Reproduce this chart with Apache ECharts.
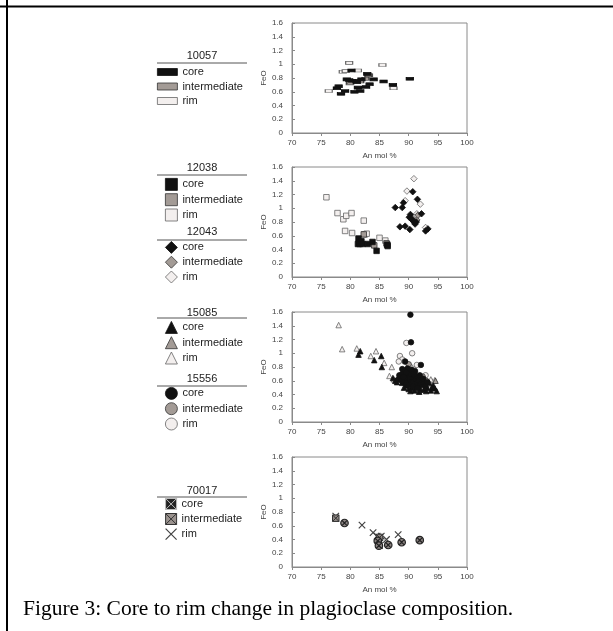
<!DOCTYPE html>
<html><head><meta charset="utf-8">
<script src="https://cdn.jsdelivr.net/npm/echarts@6/dist/echarts.min.js"></script>
<style>html,body{margin:0;padding:0;background:#fff}#c{width:613px;height:631px}</style>
</head><body><div id="c"></div>
<script>
// ---- axis ticks ----
const xMin = 70, xMax = 100, xStep = 5;
const yMin = 0, yMax = 1.6, yStep = 0.2;
const xName = 'An mol %', yName = 'FeO';
const caption = 'Figure 3: Core to rim change in plagioclase composition.';
const types = ['core', 'intermediate', 'rim'];

// ---- data [An mol %, FeO] ----
const core10057 = [[77.7,0.65],[78.0,0.68],[78.4,0.57],[79.1,0.61],[79.4,0.78],[80.2,0.91],[80.3,0.76],[80.7,0.60],[81.0,0.76],[81.3,0.66],[81.7,0.61],[81.9,0.78],[82.7,0.67],[82.9,0.86],[83.3,0.71],[84.0,0.78],[85.7,0.75],[87.3,0.70],[90.2,0.79],[81.1,0.74],[79.8,0.77]];
const int10057 = [[80.0,0.73],[81.7,0.75],[82.6,0.79],[83.1,0.84]];
const rim10057 = [[76.3,0.61],[78.7,0.89],[79.2,0.90],[79.8,1.02],[81.3,0.91],[85.5,0.99],[87.4,0.65],[83.2,0.84],[79.9,0.72]];

const core12038 = [[81.3,0.48],[81.4,0.56],[81.6,0.50],[81.6,0.48],[81.9,0.52],[82.1,0.48],[83.0,0.48],[83.8,0.51],[84.5,0.38],[86.3,0.47],[86.4,0.45]];
const int12038 = [[84.1,0.46],[86.2,0.49],[82.3,0.62]];
const rim12038 = [[75.9,1.16],[77.8,0.93],[78.8,0.84],[79.3,0.89],[80.2,0.93],[79.1,0.67],[80.3,0.64],[82.3,0.82],[82.5,0.62],[82.8,0.63],[85.0,0.57],[86.0,0.53],[86.4,0.47]];
const core12043 = [[87.7,1.01],[88.9,1.01],[89.1,1.08],[88.5,0.73],[89.4,0.74],[90.2,0.69],[90.1,0.87],[90.3,0.91],[90.7,1.24],[90.6,0.83],[91.0,0.79],[91.3,0.80],[91.5,1.13],[92.2,0.92],[92.9,0.67],[93.3,0.70],[91.1,0.77],[90.4,0.85]];
const int12043 = [[90.6,0.86],[91.4,0.83],[91.6,0.90]];
const rim12043 = [[90.9,1.43],[89.7,1.25],[89.4,1.11],[92.0,1.06],[91.4,0.92],[92.9,0.72]];

const core15085 = [[81.4,0.98],[81.7,1.03],[84.1,0.90],[85.3,0.96],[85.4,0.80],[87.3,0.64],[87.7,0.60],[88.6,0.63],[89.5,0.53],[90.0,0.48],[90.5,0.50],[91.0,0.46],[91.5,0.52],[92.0,0.48],[92.6,0.47],[93.2,0.50],[93.8,0.46],[94.5,0.49],[94.8,0.45],[94.2,0.53],[90.8,0.55],[92.3,0.55],[88.9,0.57],[93.5,0.57],[89.2,0.50],[90.3,0.45],[91.8,0.44],[93.0,0.45],[94.0,0.50],[89.8,0.62],[88.0,0.58]];
const int15085 = [[88.2,0.63],[89.6,0.60],[91.2,0.50],[93.0,0.53],[94.6,0.60],[90.2,0.58]];
const rim15085 = [[78.0,1.41],[78.6,1.06],[81.1,1.07],[83.5,0.96],[84.4,1.03],[85.8,0.86],[87.1,0.80],[86.7,0.67],[87.5,0.62],[94.0,0.59],[94.5,0.61],[93.8,0.62],[92.9,0.50],[91.8,0.46]];
const core15556 = [[90.3,1.56],[90.4,1.16],[92.1,0.83],[89.4,0.88],[88.2,0.62],[88.6,0.66],[88.9,0.70],[89.2,0.74],[89.5,0.68],[89.7,0.62],[89.9,0.72],[90.1,0.66],[90.2,0.60],[90.4,0.70],[90.6,0.64],[90.8,0.58],[91.0,0.68],[91.2,0.62],[91.4,0.56],[91.6,0.66],[91.8,0.60],[92.0,0.54],[92.3,0.62],[92.6,0.57],[89.0,0.58],[89.3,0.64],[89.6,0.56],[90.0,0.54],[90.5,0.76],[91.1,0.74],[88.8,0.60],[90.7,0.52],[91.5,0.50],[92.8,0.52],[89.8,0.78],[88.4,0.68],[88.9,0.77],[89.6,0.72],[90.9,0.70],[91.9,0.68],[92.5,0.63],[93.2,0.58],[89.1,0.66]];
const int15556 = [[89.2,0.60],[90.6,0.72],[91.3,0.58],[92.4,0.66],[90.0,0.84],[93.0,0.60]];
const rim15556 = [[89.6,1.15],[90.6,1.00],[88.5,0.96],[88.9,0.91],[88.3,0.88],[89.3,0.88],[90.3,0.80],[91.4,0.83],[92.9,0.68],[91.7,0.51],[92.6,0.48],[90.9,0.76],[89.8,0.50],[93.5,0.55],[91.0,0.47]];

const core70017 = [[79.0,0.64],[84.7,0.38],[86.5,0.32],[88.8,0.36],[91.9,0.39],[84.9,0.31]];
const int70017 = [[77.5,0.71],[85.0,0.43]];
const rim70017 = [[77.5,0.74],[82.0,0.61],[83.9,0.50],[84.6,0.45],[85.3,0.45],[86.2,0.40],[88.2,0.47],[85.0,0.31]];

// ---- styles ----
const fills = {core: '#111111', intermediate: '#a39b96', rim: '#f3efee'};
const borders = {core: '#111111', intermediate: '#333333', rim: '#666666'};
const circX = 'path://M0 5 C0 2.24 2.24 0 5 0 C7.76 0 10 2.24 10 5 C10 7.76 7.76 10 5 10 C2.24 10 0 7.76 0 5 Z M1.6 1.6 L8.4 8.4 M8.4 1.6 L1.6 8.4';
const sqX = 'path://M0 0 L10 0 L10 10 L0 10 Z M0 0 L10 10 M10 0 L0 10';
const onlyX = 'path://M0 0 L10 10 M10 0 L0 10';

const grids = [
  {left: 292, top: 23, width: 175, height: 110},
  {left: 292, top: 167, width: 175, height: 110},
  {left: 292, top: 312, width: 175, height: 110},
  {left: 292, top: 457, width: 175, height: 110}
];

const axisLbl = {fontSize: 8, color: '#444', fontFamily: 'Liberation Sans'};
const xAxes = grids.map((g, i) => ({
  gridIndex: i, type: 'value', min: xMin, max: xMax, interval: xStep,
  name: xName, nameLocation: 'middle', nameGap: 19,
  nameTextStyle: {fontSize: 8, color: '#444', fontFamily: 'Liberation Sans'},
  axisLine: {lineStyle: {color: '#8a8a8a'}}, axisTick: {length: 3, lineStyle: {color: '#8a8a8a'}},
  axisLabel: Object.assign({margin: 6}, axisLbl), splitLine: {show: false}
}));
const yAxes = grids.map((g, i) => ({
  gridIndex: i, type: 'value', min: yMin, max: yMax, interval: yStep,
  name: yName, nameLocation: 'middle', nameGap: 23, nameRotate: 90,
  nameTextStyle: {fontSize: 8, color: '#444', fontFamily: 'Liberation Sans'},
  axisLine: {show: true, lineStyle: {color: '#8a8a8a'}}, axisTick: {show: true, inside: true, length: 3, lineStyle: {color: '#8a8a8a'}},
  axisLabel: Object.assign({margin: 9}, axisLbl), splitLine: {show: false}
}));

const series = [];
function sc(sample, type, data, gi, symbol, size, opt) {
  opt = opt || {};
  series.push({
    name: sample + ' ' + type, type: 'scatter', xAxisIndex: gi, yAxisIndex: gi,
    data: data, symbol: symbol, symbolSize: size, z: opt.z || 2,
    itemStyle: {color: opt.color || fills[type], borderColor: opt.border || borders[type], borderWidth: opt.bw == null ? 0.8 : opt.bw, opacity: 1},
    emphasis: {disabled: true}
  });
}
// panel 1
sc('10057', 'rim', rim10057, 0, 'rect', [7, 3], {z: 2});
sc('10057', 'intermediate', int10057, 0, 'rect', [7, 3], {z: 3});
sc('10057', 'core', core10057, 0, 'rect', [7, 3], {z: 4});
// panel 2
sc('12038', 'rim', rim12038, 1, 'rect', 5.5, {z: 2});
sc('12038', 'intermediate', int12038, 1, 'rect', 5.5, {z: 3});
sc('12038', 'core', core12038, 1, 'rect', 5.5, {z: 4});
sc('12043', 'rim', rim12043, 1, 'diamond', 6.5, {z: 2});
sc('12043', 'intermediate', int12043, 1, 'diamond', 6.5, {z: 3});
sc('12043', 'core', core12043, 1, 'diamond', 6.5, {z: 4});
// panel 3
sc('15085', 'rim', rim15085, 2, 'triangle', 5.5, {z: 2});
sc('15556', 'rim', rim15556, 2, 'circle', 5.5, {z: 2});
sc('15085', 'intermediate', int15085, 2, 'triangle', 5.5, {z: 3});
sc('15556', 'intermediate', int15556, 2, 'circle', 5.5, {z: 3});
sc('15085', 'core', core15085, 2, 'triangle', 5.5, {z: 4});
sc('15556', 'core', core15556, 2, 'circle', 5.5, {z: 4});
// panel 4
sc('70017', 'rim', rim70017, 3, onlyX, 6.5, {color: 'transparent', border: '#444', bw: 1.2, z: 2});
sc('70017', 'intermediate', int70017, 3, sqX, 6.5, {color: '#8f8783', border: '#333', bw: 1, z: 3});
sc('70017', 'core', core70017, 3, circX, 7.5, {color: '#8a8280', border: '#222', bw: 1.2, z: 4});

// ---- legends ----
const legendText = {fontSize: 11, color: '#222', fontFamily: 'Liberation Sans', lineHeight: 12};
function lg(sample, top, left, w, h, gap, icons) {
  return {
    top: top, left: left, orient: 'vertical', padding: 0, itemGap: gap,
    itemWidth: w, itemHeight: h, selectedMode: false, textStyle: legendText,
    formatter: n => n.split(' ')[1],
    data: types.map((t, k) => {
      const d = {name: sample + ' ' + t};
      if (icons) { d.icon = icons[k].icon; d.itemStyle = icons[k].style; }
      return d;
    })
  };
}
const legends = [
  lg('10057', 66, 157, 20, 7, 2.5, types.map(t => ({icon: 'rect', style: {color: fills[t], borderColor: borders[t], borderWidth: 0.8}}))),
  lg('12038', 178, 165, 12, 12, 2.5, types.map(t => ({icon: 'rect', style: {color: fills[t], borderColor: borders[t], borderWidth: 0.8}}))),
  lg('12043', 241, 165, 12, 12, 2, types.map(t => ({icon: 'diamond', style: {color: fills[t], borderColor: borders[t], borderWidth: 0.8}}))),
  lg('15085', 321, 165, 12, 12, 2.5, types.map(t => ({icon: 'triangle', style: {color: fills[t], borderColor: borders[t], borderWidth: 0.8}}))),
  lg('15556', 387, 165, 12, 12, 2.5, types.map(t => ({icon: 'circle', style: {color: fills[t], borderColor: borders[t], borderWidth: 0.8}}))),
  lg('70017', 498, 165, 11, 11, 3, [
    {icon: sqX, style: {color: '#222', borderColor: '#bbb', borderWidth: 1}},
    {icon: sqX, style: {color: '#9a928e', borderColor: '#333', borderWidth: 1}},
    {icon: onlyX, style: {color: 'transparent', borderColor: '#444', borderWidth: 1.2}}
  ])
];

// ---- legend headers and page frame ----
const headers = [['10057', 56, 63], ['12038', 168, 175], ['12043', 232, 240], ['15085', 313, 318], ['15556', 379, 386], ['70017', 491, 497]];
const graphic = [];
headers.forEach(h => {
  graphic.push({type: 'text', style: {text: h[0], x: 202, y: h[1], textAlign: 'center', textVerticalAlign: 'middle', font: '11px "Liberation Sans"', fill: '#222'}});
  graphic.push({type: 'line', shape: {x1: 157, y1: h[2], x2: 247, y2: h[2]}, style: {stroke: '#555', lineWidth: 1}});
});
graphic.push({type: 'rect', shape: {x: 0, y: 5.5, width: 613, height: 2}, style: {fill: '#000'}});
graphic.push({type: 'rect', shape: {x: 6, y: 0, width: 2, height: 631}, style: {fill: '#000'}});
graphic.push({type: 'text', style: {text: caption, x: 23, y: 609, textVerticalAlign: 'middle', font: '21.5px "Liberation Serif"', fill: '#000'}});

const chart = echarts.init(document.getElementById('c'), null, {renderer: 'canvas'});
chart.setOption({
  animation: false, backgroundColor: '#fff',
  grid: grids.map(g => Object.assign({show: true, borderColor: '#8a8a8a', borderWidth: 1, backgroundColor: 'transparent'}, g)),
  xAxis: xAxes, yAxis: yAxes, legend: legends, series: series, graphic: graphic
});
</script></body></html>
